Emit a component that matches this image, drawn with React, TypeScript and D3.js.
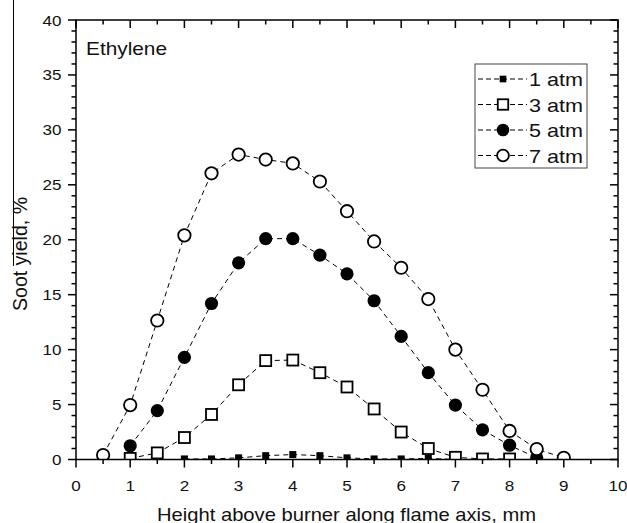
import React from "react";
import * as d3 from "d3";

const xs1 = [2, 2.5, 3, 3.5, 4, 4.5, 5, 5.5, 6, 6.5, 7, 7.5, 8, 8.5];
const atm1 = [0.05, 0.05, 0.15, 0.35, 0.45, 0.35, 0.15, 0.05, 0.05, 0.1, 0, 0, 0, 0];
const xs3 = [1, 1.5, 2, 2.5, 3, 3.5, 4, 4.5, 5, 5.5, 6, 6.5, 7, 7.5, 8];
const atm3 = [0.1, 0.6, 2.0, 4.1, 6.8, 9.0, 9.05, 7.9, 6.6, 4.6, 2.5, 1.0, 0.2, 0.05, 0.05];
const xs5 = [1, 1.5, 2, 2.5, 3, 3.5, 4, 4.5, 5, 5.5, 6, 6.5, 7, 7.5, 8, 8.5];
const atm5 = [1.25, 4.45, 9.3, 14.2, 17.9, 20.1, 20.1, 18.6, 16.9, 14.45, 11.2, 7.9, 4.95, 2.7, 1.3, 0.15];
const xs7 = [0.5, 1, 1.5, 2, 2.5, 3, 3.5, 4, 4.5, 5, 5.5, 6, 6.5, 7, 7.5, 8, 8.5, 9];
const atm7 = [0.4, 4.95, 12.65, 20.4, 26.05, 27.75, 27.3, 26.95, 25.3, 22.6, 19.85, 17.45, 14.6, 10.0, 6.35, 2.6, 0.95, 0.15];

const seriesNames = ["1 atm", "3 atm", "5 atm", "7 atm"];
const xTicks = [0, 1, 2, 3, 4, 5, 6, 7, 8, 9, 10];
const yTicks = [0, 5, 10, 15, 20, 25, 30, 35, 40];

const FONT = "'Liberation Sans', Arial, sans-serif";
const SX = 1.1;

const L = 76, R = 618, T = 20, B = 459.5;

function Txt({ x, y, size, anchor = "start", rot = 0, len, children }: any) {
  const tf = rot
    ? `translate(${x},${y}) rotate(${rot})`
    : len
    ? `translate(${x},${y})`
    : `translate(${x},${y}) scale(${SX},1)`;
  const extra: any = len ? { textLength: len, lengthAdjust: "spacingAndGlyphs" } : {};
  return (
    <text transform={tf} fontSize={size} fontFamily={FONT} textAnchor={anchor} fill="#111" {...extra}>
      {children}
    </text>
  );
}

function Marker({ kind, x, y, legend = false }: any) {
  const k = legend ? 0.95 : 1;
  if (kind === 0) {
    const s = 7 * k;
    return <rect x={x - s / 2} y={y - s / 2} width={s} height={s} fill="#000" />;
  }
  if (kind === 1) {
    const s = 11 * k;
    return <rect x={x - s / 2} y={y - s / 2} width={s} height={s} fill="#fff" stroke="#000" strokeWidth={1.8} />;
  }
  if (kind === 2) {
    return <circle cx={x} cy={y} r={6.6 * k} fill="#000" />;
  }
  return <circle cx={x} cy={y} r={6.2 * k} fill="#fff" stroke="#000" strokeWidth={1.8} />;
}

export default function App() {
  const x = d3.scaleLinear().domain([0, 10]).range([L, R]);
  const y = d3.scaleLinear().domain([0, 40]).range([B, T]);
  const series = [
    { xs: xs1, ys: atm1 },
    { xs: xs3, ys: atm3 },
    { xs: xs5, ys: atm5 },
    { xs: xs7, ys: atm7 },
  ];
  const line = d3
    .line<[number, number]>()
    .x((d) => x(d[0]))
    .y((d) => y(d[1]));

  const xMinor = d3.range(0, 10.01, 0.5).filter((v) => !xTicks.includes(v));
  const yMinor = d3.range(0, 40.01, 1).filter((v) => !yTicks.includes(v));

  const legX = 475, legY = 64, legW = 112, legH = 104;
  const rowY = [79, 104.5, 130, 155.5];

  return (
    <svg
      width={627}
      height={523}
      style={{ position: "absolute", left: 0, top: 0, background: "#fff" }}
    >
      <rect width={627} height={523} fill="#fff" />
      <line x1={13.5} y1={0} x2={13.5} y2={266} stroke="#000" strokeWidth={1} />
      <defs>
        <clipPath id="plot">
          <rect x={L} y={T} width={R - L} height={B - T} />
        </clipPath>
      </defs>

      <g clipPath="url(#plot)">
        {series.map((s, i) => (
          <g key={i}>
            <path
              d={line(s.xs.map((v, j) => [v, s.ys[j]]) as [number, number][]) || ""}
              fill="none"
              stroke="#000"
              strokeWidth={1}
              strokeDasharray="5,4"
            />
            {s.xs.map((v, j) => (
              <Marker key={j} kind={i} x={x(v)} y={y(s.ys[j])} />
            ))}
          </g>
        ))}
      </g>

      {/* frame */}
      <rect x={L} y={T} width={R - L} height={B - T} fill="none" stroke="#000" strokeWidth={1.5} />

      {/* bottom ticks (out) and top ticks (in) */}
      {xTicks.map((v) => (
        <g key={"xt" + v}>
          <line x1={x(v)} x2={x(v)} y1={B} y2={B + 8} stroke="#000" strokeWidth={1.5} />
          <line x1={x(v)} x2={x(v)} y1={T} y2={T + 8} stroke="#000" strokeWidth={1.5} />
          <Txt x={x(v)} y={490.5} size={15.5} anchor="middle">{v}</Txt>
        </g>
      ))}
      {xMinor.map((v) => (
        <g key={"xm" + v}>
          <line x1={x(v)} x2={x(v)} y1={B} y2={B + 4.5} stroke="#000" strokeWidth={1.5} />
          <line x1={x(v)} x2={x(v)} y1={T} y2={T + 4.5} stroke="#000" strokeWidth={1.5} />
        </g>
      ))}

      {/* left ticks (out) and right ticks (in) */}
      {yTicks.map((v) => (
        <g key={"yt" + v}>
          <line x1={L - 8} x2={L} y1={y(v)} y2={y(v)} stroke="#000" strokeWidth={1.5} />
          <line x1={R - 8} x2={R} y1={y(v)} y2={y(v)} stroke="#000" strokeWidth={1.5} />
          <Txt x={61.5} y={y(v) + 5.5} size={15.5} anchor="end">{v}</Txt>
        </g>
      ))}
      {yMinor.map((v) => (
        <g key={"ym" + v}>
          <line x1={L - 4.5} x2={L} y1={y(v)} y2={y(v)} stroke="#000" strokeWidth={1.5} />
          <line x1={R - 4.5} x2={R} y1={y(v)} y2={y(v)} stroke="#000" strokeWidth={1.5} />
        </g>
      ))}

      {/* titles */}
      <Txt x={346.5} y={521} size={19} anchor="middle" len={379}>
        Height above burner along flame axis, mm
      </Txt>
      <Txt x={27} y={254} size={19.5} anchor="middle" rot={-90} len={114}>
        Soot yield, %
      </Txt>
      <Txt x={86} y={55} size={19} len={81}>Ethylene</Txt>

      {/* legend */}
      <rect x={legX} y={legY} width={legW} height={legH} fill="#fff" stroke="#444" strokeWidth={1} />
      {seriesNames.map((name, i) => (
        <g key={name}>
          <line
            x1={478}
            x2={527}
            y1={rowY[i]}
            y2={rowY[i]}
            stroke="#000"
            strokeWidth={1}
            strokeDasharray="5,3"
          />
          <Marker kind={i} x={503} y={rowY[i]} legend />
          <Txt x={529} y={rowY[i] + 7} size={19} len={54}>{name}</Txt>
        </g>
      ))}
    </svg>
  );
}
